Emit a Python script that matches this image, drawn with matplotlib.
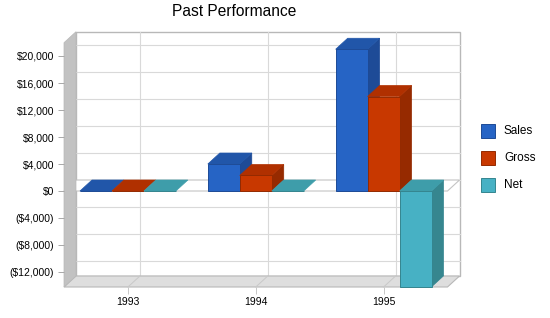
import matplotlib
matplotlib.use("Agg")
import matplotlib.pyplot as plt
from matplotlib.patches import Polygon, Rectangle

plt.rcParams['font.family'] = ['Liberation Sans', 'DejaVu Sans']

# ---- data ----
categories = ["1993", "1994", "1995"]
series_names = ["Sales", "Gross", "Net"]
sales = [0, 4000, 21000]
gross = [0, 2300, 14000]
net = [0, 0, -14200]
yticks = [-12000, -8000, -4000, 0, 4000, 8000, 12000, 16000, 20000]

front_colors = ["#2664C5", "#C83800", "#47B1C4"]
top_colors = ["#2156A9", "#B03000", "#3E9DAA"]
side_colors = ["#1E4B97", "#962A00", "#36868F"]
edge_colors = ["#1D4A96", "#942A00", "#34858F"]

W, H = 550, 318
fig = plt.figure(figsize=(W / 100, H / 100), dpi=100)
fig.patch.set_facecolor("white")

# front plane of the 3D box in pixels
fx0, fx1, fy_top, fy_bot = 64, 447.5, 42.7, 287.0
ax = fig.add_axes([fx0 / W, 1 - fy_bot / H, (fx1 - fx0) / W, (fy_bot - fy_top) / H])
ax.set_facecolor("none")
for s in ax.spines.values():
    s.set_visible(False)

x0, x1 = -0.5, len(categories) - 0.5
y0, y1 = -14220, 21970
ax.set_xlim(x0, x1)
ax.set_ylim(y0, y1)

# depth offsets in data units (12 px right, 11 px up)
dx = 12 / ((fx1 - fx0) / (x1 - x0))
dy = 11 / ((fy_bot - fy_top) / (y1 - y0))

grid_c = "#D9D9D9"
wall_edge = "#B8B8B8"

def poly(pts, fc, ec="none", lw=0.7, z=1):
    p = Polygon(pts, closed=True, facecolor=fc, edgecolor=ec, linewidth=lw,
                zorder=z, clip_on=False)
    ax.add_patch(p)
    return p

# back wall
poly([(x0 + dx, y0 + dy), (x1 + dx, y0 + dy), (x1 + dx, y1 + dy), (x0 + dx, y1 + dy)],
     "white", wall_edge, 1.0, z=0.5)
# back gridlines
for t in yticks:
    ax.plot([x0 + dx, x1 + dx], [t + dy, t + dy], color=grid_c, lw=0.8, zorder=0.6, clip_on=False)
for i in range(len(categories)):
    ax.plot([i + dx, i + dx], [y0 + dy, y1 + dy], color=grid_c, lw=0.8, zorder=0.6, clip_on=False)
# floor
poly([(x0, y0), (x1, y0), (x1 + dx, y0 + dy), (x0 + dx, y0 + dy)], "#DEDEDE", wall_edge, 0.8, z=0.7)
for i in range(len(categories)):
    ax.plot([i, i + dx], [y0, y0 + dy], color="#C8C8C8", lw=0.7, zorder=0.75, clip_on=False)
# zero plane
poly([(x0, 0), (x1, 0), (x1 + dx, dy), (x0 + dx, dy)], "white", "#C4C4C4", 0.8, z=0.8)
# left side wall
poly([(x0, y0), (x0 + dx, y0 + dy), (x0 + dx, y1 + dy), (x0, y1)], "#C2C2C2", "#B8B8B8", 0.5, z=0.9)

# bars
bw = 0.25
offsets = [-0.25, 0.0, 0.25]
all_series = [sales, gross, net]
for j, vals in enumerate(all_series):
    xs = [i + offsets[j] for i in range(len(categories))]
    bars = ax.bar(xs, vals, width=bw, color=front_colors[j], edgecolor=edge_colors[j],
                  linewidth=0.7)
    for i, (b, v) in enumerate(zip(bars, vals)):
        z = 2 + (i * 3 + j) * 0.1
        b.set_zorder(z + 0.05)
        b.set_clip_on(False)
        L = xs[i] - bw / 2
        R = xs[i] + bw / 2
        top = max(v, 0)
        bot = min(v, 0)
        # side face
        if v != 0:
            poly([(R, bot), (R + dx, bot + dy), (R + dx, top + dy), (R, top)],
                 side_colors[j], edge_colors[j], 0.5, z=z)
        # top face
        poly([(L, top), (R, top), (R + dx, top + dy), (L + dx, top + dy)],
             top_colors[j], top_colors[j], 0.5, z=z + 0.01)

# axes ticks
ax.set_yticks(yticks)
ax.set_yticklabels([("$" + f"{v:,}") if v >= 0 else ("($" + f"{-v:,}" + ")") for v in yticks])
ax.set_xticks(range(len(categories)))
ax.set_xticklabels(categories)
ax.tick_params(axis="y", length=4, width=0.7, color="#A8A8A8", pad=3, labelsize=7.5)
ax.tick_params(axis="x", length=5, width=0.7, color="#C8C8C8", pad=2.5, labelsize=7.5)

# title
fig.text(234.5 / W, 1 - 12 / H, "Past Performance", ha="center", va="center", fontsize=11.2)

# legend
leg_y = [131, 158, 185]
for j, name in enumerate(series_names):
    sq = 14
    fig.add_artist(Rectangle((481 / W, 1 - (leg_y[j] + sq / 2) / H), sq / W, sq / H,
                             transform=fig.transFigure, facecolor=front_colors[j],
                             edgecolor=edge_colors[j], linewidth=0.7))
    fig.text(504 / W, 1 - leg_y[j] / H, name, ha="left", va="center", fontsize=8.5)

fig.savefig("out.png", dpi=100)
